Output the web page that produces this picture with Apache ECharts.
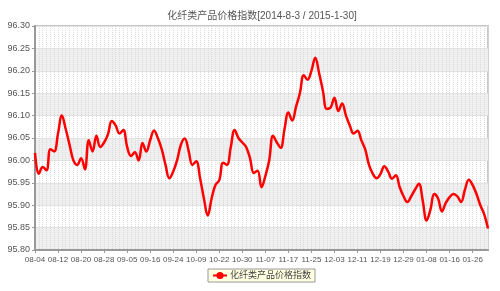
<!DOCTYPE html>
<html>
<head>
<meta charset="utf-8">
<title>化纤类产品价格指数</title>
<script src="https://cdn.jsdelivr.net/npm/echarts@6/dist/echarts.min.js"></script>
<style>
  html, body { margin: 0; padding: 0; background: #fff; }
  #chart { width: 500px; height: 291px; }
</style>
</head>
<body>
<div id="chart"></div>
<script>
// 日期（交易日）
const dates = [
  '08-04', '08-05', '08-06', '08-07', '08-08', '08-11',
  '08-12', '08-13', '08-14', '08-15', '08-18', '08-19',
  '08-20', '08-21', '08-22', '08-25', '08-26', '08-27',
  '08-28', '08-29', '09-01', '09-02', '09-03', '09-04',
  '09-05', '09-09', '09-10', '09-11', '09-12', '09-15',
  '09-16', '09-17', '09-18', '09-19', '09-22', '09-23',
  '09-24', '09-25', '09-26', '09-29', '09-30', '10-08',
  '10-09', '10-10', '10-14', '10-16', '10-20', '10-21',
  '10-22', '10-23', '10-24', '10-27', '10-28', '10-29',
  '10-30', '10-31', '11-03', '11-04', '11-05', '11-06',
  '11-07', '11-10', '11-11', '11-12', '11-13', '11-14',
  '11-17', '11-18', '11-19', '11-20', '11-21', '11-24',
  '11-25', '11-26', '11-27', '11-28', '12-01', '12-02',
  '12-03', '12-04', '12-05', '12-08', '12-09', '12-10',
  '12-11', '12-12', '12-15', '12-16', '12-17', '12-18',
  '12-19', '12-22', '12-23', '12-24', '12-25', '12-26',
  '12-29', '12-30', '12-31', '01-05', '01-06', '01-07',
  '01-08', '01-09', '01-12', '01-13', '01-14', '01-15',
  '01-16', '01-19', '01-20', '01-21', '01-22', '01-23',
  '01-26', '01-27', '01-28', '01-29', '01-30'
]

// 指数值
const indexValues = [
  96.017, 95.970, 95.985, 95.978, 96.025, 96.020,
  96.060, 96.100, 96.070, 96.035, 96.000, 95.990,
  96.005, 95.980, 96.045, 96.020, 96.055, 96.030,
  96.040, 96.058, 96.088, 96.078, 96.060, 96.068,
  96.030, 96.010, 96.018, 96.000, 96.039, 96.020,
  96.045, 96.067, 96.050, 96.025, 95.990, 95.960,
  95.975, 96.000, 96.035, 96.049, 96.022, 95.990,
  95.998, 95.960, 95.915, 95.877, 95.915, 95.945,
  95.956, 95.995, 95.990, 96.030, 96.068, 96.050,
  96.040, 96.030, 96.005, 95.972, 95.977, 95.940,
  95.965, 96.000, 96.055, 96.040, 96.028, 96.070,
  96.107, 96.089, 96.120, 96.150, 96.190, 96.180,
  96.200, 96.229, 96.195, 96.155, 96.115, 96.118,
  96.140, 96.110, 96.127, 96.100, 96.078, 96.060,
  96.066, 96.045, 96.025, 95.990, 95.970, 95.960,
  95.970, 95.987, 95.975, 95.959, 95.967, 95.940,
  95.920, 95.907, 95.920, 95.935, 95.948, 95.910,
  95.866, 95.890, 95.925, 95.915, 95.886, 95.905,
  95.918, 95.925, 95.920, 95.907, 95.935, 95.957,
  95.945, 95.925, 95.900, 95.880, 95.848
]

const seriesName = '化纤类产品价格指数'
const titleText = '化纤类产品价格指数[2014-8-3 / 2015-1-30]'
const yMin = 95.8
const yMax = 96.3
const yStep = 0.05

const chart = echarts.init(document.getElementById('chart'), null, { renderer: 'canvas' })

const option = {
  animation: false,
  textStyle: {
    fontFamily: 'Liberation Sans, Arial, Noto Sans CJK SC, sans-serif'
  },
  title: {
    text: titleText,
    left: 262,
    top: 11,
    padding: 0,
    textAlign: 'center',
    textStyle: {
      fontSize: 10,
      fontWeight: 'normal',
      color: '#555'
    }
  },
  legend: {
    data: [seriesName],
    left: 208,
    top: 269,
    padding: [2, 4, 2, 4],
    itemWidth: 14,
    itemHeight: 9,
    itemGap: 4,
    backgroundColor: '#ffffe1',
    borderColor: '#999',
    borderWidth: 1,
    textStyle: {
      fontSize: 9,
      color: '#444',
      padding: [0, 0, 0, -2]
    }
  },
  grid: {
    left: 35,
    right: 12,
    top: 26,
    bottom: 41,
    show: true,
    borderColor: '#c8c8c8',
    borderWidth: 2,
    backgroundColor: 'transparent'
  },
  xAxis: {
    type: 'category',
    boundaryGap: false,
    data: dates,
    axisLine: {
      lineStyle: { color: '#999', width: 2 }
    },
    axisTick: {
      show: true,
      interval: 5,
      length: 3,
      lineStyle: { color: '#999' }
    },
    axisLabel: {
      interval: 5,
      fontSize: 8,
      color: '#555',
      margin: 6,
      hideOverlap: false
    },
    splitLine: {
      show: true,
      interval: 0,
      lineStyle: { color: '#dadada', type: [1, 1], width: 1 }
    }
  },
  yAxis: {
    type: 'value',
    min: yMin,
    max: yMax,
    interval: yStep,
    axisLine: {
      show: true,
      lineStyle: { color: '#999', width: 2 }
    },
    axisTick: {
      show: true,
      length: 3,
      lineStyle: { color: '#999' }
    },
    axisLabel: {
      fontSize: 9,
      color: '#555',
      margin: 5,
      formatter: (v) => v.toFixed(2)
    },
    splitLine: {
      show: true,
      lineStyle: { color: '#e2e2e2', width: 1 }
    },
    splitArea: {
      show: true,
      areaStyle: { color: ['#efefef', 'rgba(255,255,255,0)'] }
    }
  },
  series: [
    {
      name: seriesName,
      type: 'line',
      data: indexValues,
      smooth: 0.4,
      showSymbol: false,
      symbol: 'circle',
      symbolSize: 6,
      itemStyle: { color: '#ff0000' },
      lineStyle: { color: '#ff0000', width: 2.5 }
    }
  ]
}

chart.setOption(option)
</script>
</body>
</html>
